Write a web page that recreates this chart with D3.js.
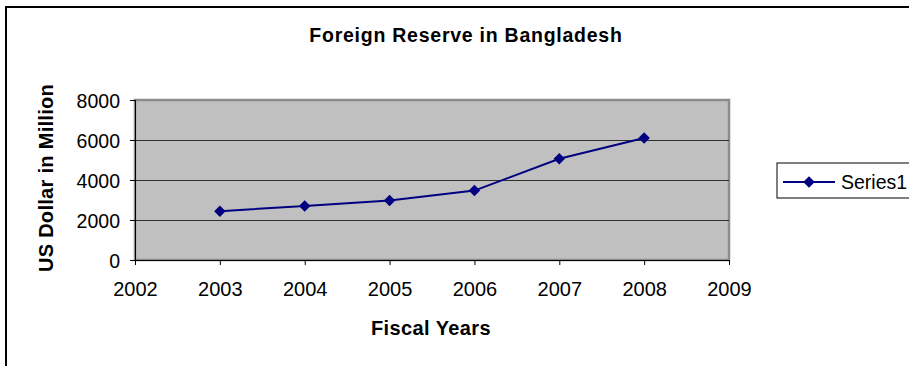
<!DOCTYPE html>
<html>
<head>
<meta charset="utf-8">
<script src="https://cdn.jsdelivr.net/npm/d3@7"></script>
<style>
  body { margin: 0; background: #fff; }
  svg { display: block; font-family: "Liberation Sans", Arial, sans-serif; }
</style>
</head>
<body>
<div id="chart"></div>
<script>
// Data
const years = [2003, 2004, 2005, 2006, 2007, 2008];
const reserves = [2440, 2700, 2980, 3470, 5060, 6100];
const xTicks = [2002, 2003, 2004, 2005, 2006, 2007, 2008, 2009];
const yTicks = [0, 2000, 4000, 6000, 8000];
const seriesName = 'Series1';

const width = 909, height = 366;
const plot = { left: 135, top: 100, right: 729, bottom: 260 };
const navy = '#000080';

const svg = d3.select('#chart').append('svg')
    .attr('width', width)
    .attr('height', height);

// Chart frame (right and bottom edges fall outside the view)
svg.append('rect')
    .attr('x', 6).attr('y', 7)
    .attr('width', 1000).attr('height', 500)
    .attr('fill', 'none')
    .attr('stroke', '#000')
    .attr('stroke-width', 2);

const x = d3.scaleLinear().domain([2002, 2009]).range([plot.left, plot.right]);
const y = d3.scaleLinear().domain([0, 8000]).range([plot.bottom, plot.top]);

// Plot area
svg.append('rect')
    .attr('x', plot.left).attr('y', plot.top)
    .attr('width', plot.right - plot.left)
    .attr('height', plot.bottom - plot.top)
    .attr('fill', '#c0c0c0')
    .attr('stroke', '#8c8c8c')
    .attr('stroke-width', 2.5);

// Gridlines
svg.append('g')
    .selectAll('line')
    .data(yTicks.filter(v => v > 0 && v < 8000))
    .join('line')
    .attr('x1', plot.left).attr('x2', plot.right)
    .attr('y1', d => y(d)).attr('y2', d => y(d))
    .attr('stroke', '#303030')
    .attr('stroke-width', 1)
    .attr('shape-rendering', 'crispEdges');

// Y axis
const yAxis = svg.append('g')
    .attr('transform', `translate(${plot.left},0)`)
    .call(d3.axisLeft(y).tickValues(yTicks).tickSize(5).tickPadding(10).tickFormat(d3.format('d')));
yAxis.select('.domain').attr('stroke', '#000').attr('stroke-width', 1);
yAxis.selectAll('.tick line').attr('stroke', '#000');
yAxis.selectAll('text').attr('fill', '#000').attr('dy', '0.36em').style('font-size', '19.5px');

// X axis
const xAxis = svg.append('g')
    .attr('transform', `translate(0,${plot.bottom})`)
    .call(d3.axisBottom(x).tickValues(xTicks).tickSize(5).tickPadding(17).tickFormat(d3.format('d')));
xAxis.select('.domain').attr('stroke', '#000').attr('stroke-width', 1);
xAxis.selectAll('.tick line').attr('stroke', '#000');
xAxis.selectAll('text').attr('fill', '#000').style('font-size', '20px');

// Series line
const line = d3.line()
    .x((d, i) => x(years[i]))
    .y(d => y(d));

svg.append('path')
    .datum(reserves)
    .attr('d', line)
    .attr('fill', 'none')
    .attr('stroke', navy)
    .attr('stroke-width', 2);

const diamond = d3.symbol().type(d3.symbolDiamond2).size(84);

svg.append('g')
    .selectAll('path')
    .data(reserves)
    .join('path')
    .attr('d', diamond)
    .attr('transform', (d, i) => `translate(${x(years[i])},${y(d)})`)
    .attr('fill', navy);

// Titles
svg.append('text')
    .attr('x', 466).attr('y', 41.5)
    .attr('text-anchor', 'middle')
    .style('font-size', '19.5px')
    .style('font-weight', 'bold')
    .style('letter-spacing', '0.75px')
    .text('Foreign Reserve in Bangladesh');

svg.append('text')
    .attr('transform', `translate(53,178) rotate(-90)`)
    .attr('text-anchor', 'middle')
    .style('font-size', '20px')
    .style('font-weight', 'bold')
    .style('letter-spacing', '0.3px')
    .text('US Dollar in Million');

svg.append('text')
    .attr('x', 431).attr('y', 335)
    .attr('text-anchor', 'middle')
    .style('font-size', '20px')
    .style('font-weight', 'bold')
    .style('letter-spacing', '0.4px')
    .text('Fiscal Years');

// Legend
const legend = svg.append('g').attr('transform', 'translate(777,163)');
legend.append('rect')
    .attr('width', 200).attr('height', 35)
    .attr('fill', '#fff')
    .attr('stroke', '#000')
    .attr('stroke-width', 1);
legend.append('line')
    .attr('x1', 6).attr('x2', 58)
    .attr('y1', 19).attr('y2', 19)
    .attr('stroke', navy)
    .attr('stroke-width', 2);
legend.append('path')
    .attr('d', diamond)
    .attr('transform', 'translate(32,19)')
    .attr('fill', navy);
legend.append('text')
    .attr('x', 64).attr('y', 26)
    .style('font-size', '19.5px')
    .text(seriesName);
</script>
</body>
</html>
